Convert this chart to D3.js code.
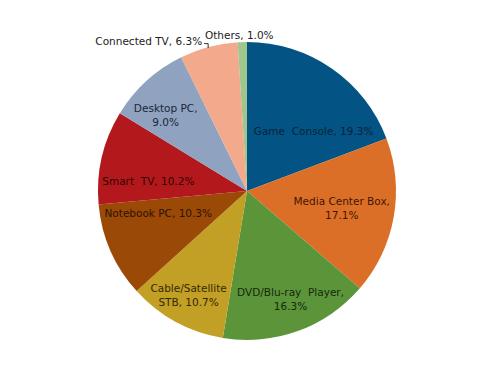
<!DOCTYPE html>
<html>
<head>
<meta charset="utf-8">
<script src="https://cdn.jsdelivr.net/npm/d3@7"></script>
<style>
  body { margin: 0; background: #fff; }
  text { font-family: "DejaVu Sans", Verdana, sans-serif; font-size: 10.5px; }
</style>
</head>
<body>
<div id="chart"></div>
<script>
// data
const categories = ["Game Console", "Media Center Box", "DVD/Blu-ray Player", "Cable/Satellite STB",
    "Notebook PC", "Smart TV", "Desktop PC", "Connected TV", "Others"];
const shares = [19.3, 17.1, 16.3, 10.7, 10.3, 10.2, 9.0, 6.3, 1.0];
const labelLines = [
    ["Game  Console, 19.3%"],
    ["Media Center Box,", "17.1%"],
    ["DVD/Blu-ray  Player,", "16.3%"],
    ["Cable/Satellite", "STB, 10.7%"],
    ["Notebook PC, 10.3%"],
    ["Smart  TV, 10.2%"],
    ["Desktop PC,", "9.0%"],
    ["Connected TV, 6.3%"],
    ["Others, 1.0%"]
];

const fills = ["#035484", "#dc6f27", "#5b9439", "#c29f25", "#9b4906", "#b3181c", "#8fa2bf", "#f3a98b", "#9fc68c"];
const inks  = ["#0b2238", "#3e1703", "#16290c", "#352a04", "#2e1301", "#330304", "#19273a", "#222", "#222"];
// label nudges from the slice centroid (layout only)
const nudge = [[9, 24], [-5, 0], [9, 13], [-10, 15], [4, -18], [0, 13], [-13, -1], null, null];

const outerWidth = 500, outerHeight = 375;
const cx = 247, cy = 191, radius = 149;

const svg = d3.select("#chart").append("svg")
    .attr("width", outerWidth)
    .attr("height", outerHeight);

const g = svg.append("g")
    .attr("transform", `translate(${cx},${cy})`);

const rows = categories.map((c, i) => ({ name: c, value: shares[i], i }));

const pie = d3.pie().sort(null).value(d => d.value);
const arcs = pie(rows);

const arc = d3.arc().innerRadius(0).outerRadius(radius);
const labelArc = d3.arc().innerRadius(radius * 0.68).outerRadius(radius * 0.68);

g.selectAll(".slice")
    .data(arcs)
    .enter()
    .append("path")
    .attr("class", "slice")
    .attr("d", arc)
    .attr("fill", d => fills[d.data.i]);

// inside labels
arcs.forEach(d => {
    const i = d.data.i;
    if (!nudge[i]) return;
    const c = labelArc.centroid(d);
    const x = c[0] + nudge[i][0], y = c[1] + nudge[i][1];
    const lines = labelLines[i];
    const t = g.append("text")
        .attr("text-anchor", "middle")
        .attr("fill", inks[i])
        .style("white-space", "pre");
    lines.forEach((ln, k) => {
        t.append("tspan")
            .attr("x", x)
            .attr("y", y + (k - (lines.length - 1) / 2) * 14)
            .attr("dy", "0.35em")
            .text(ln);
    });
});

// outside labels for the two small slices
const edge = d3.arc().innerRadius(radius + 2).outerRadius(radius + 2);
const ctv = arcs[7], oth = arcs[8];
const pc = edge.centroid(ctv);
g.append("path")
    .attr("d", `M${pc[0] - 4},${pc[1] - 1.5}H${pc[0]}V${pc[1] + 3}`)
    .attr("fill", "none")
    .attr("stroke", "#333")
    .attr("stroke-width", 1);
g.append("text")
    .attr("x", pc[0] - 6)
    .attr("y", pc[1] - 4)
    .attr("dy", "0.35em")
    .attr("text-anchor", "end")
    .attr("fill", inks[7])
    .text(labelLines[7][0]);

const po = edge.centroid(oth);
g.append("text")
    .attr("x", po[0] - 3)
    .attr("y", po[1] - 5)
    .attr("dy", "0.35em")
    .attr("text-anchor", "middle")
    .attr("fill", inks[8])
    .text(labelLines[8][0]);
</script>
</body>
</html>
